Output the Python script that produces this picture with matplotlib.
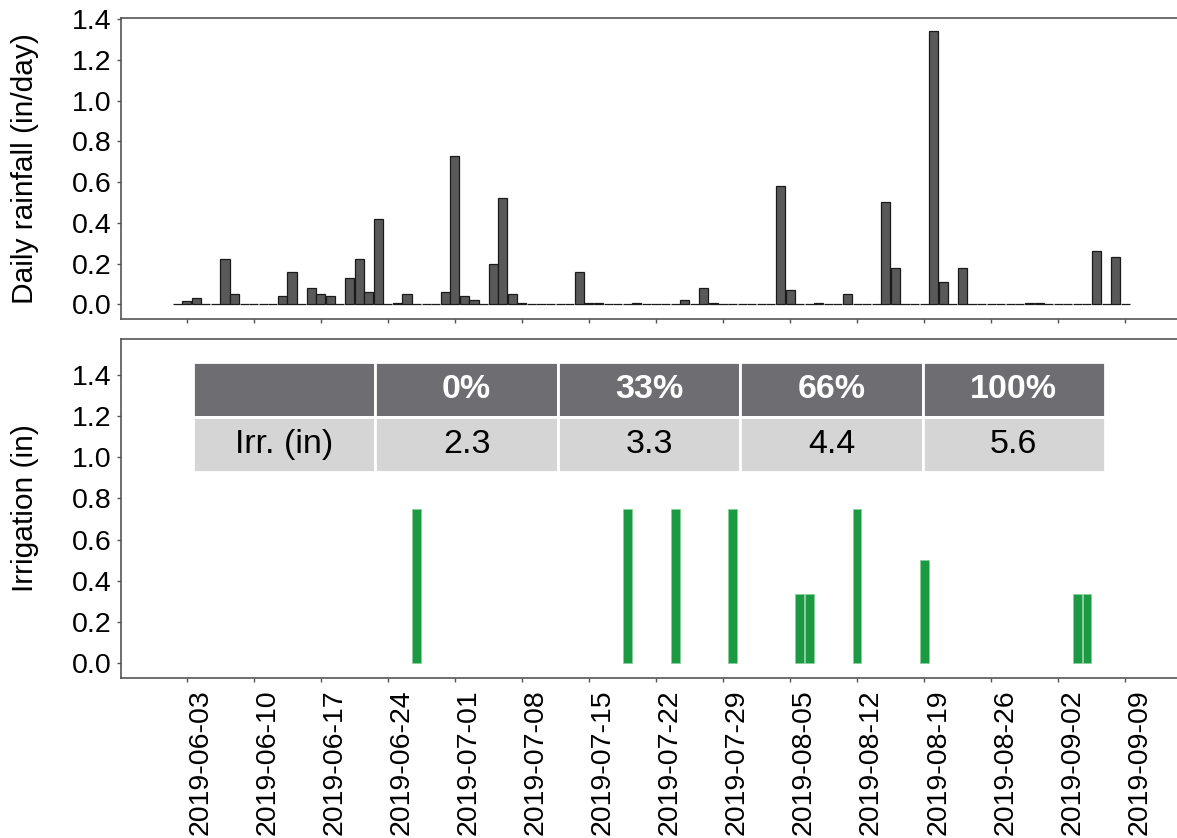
import matplotlib
matplotlib.use('Agg')
import matplotlib.pyplot as plt
import matplotlib.dates as mdates
import numpy as np
import pandas as pd

plt.rcParams['font.family'] = ['Liberation Sans', 'DejaVu Sans']

# ---------------- data ----------------
rain_dates = ['2019-06-03', '2019-06-04', '2019-06-07', '2019-06-08', '2019-06-13',
              '2019-06-14', '2019-06-16', '2019-06-17', '2019-06-18', '2019-06-20',
              '2019-06-21', '2019-06-22', '2019-06-23', '2019-06-25', '2019-06-26',
              '2019-06-30', '2019-07-01', '2019-07-02', '2019-07-03', '2019-07-05',
              '2019-07-06', '2019-07-07', '2019-07-08', '2019-07-14', '2019-07-15',
              '2019-07-16', '2019-07-20', '2019-07-25', '2019-07-27', '2019-07-28',
              '2019-08-04', '2019-08-05', '2019-08-08', '2019-08-11', '2019-08-15',
              '2019-08-16', '2019-08-20', '2019-08-21', '2019-08-23', '2019-08-30',
              '2019-08-31', '2019-09-06', '2019-09-08']
rain_values = [0.015, 0.03, 0.22, 0.05, 0.04,
               0.16, 0.08, 0.05, 0.04, 0.13,
               0.22, 0.06, 0.42, 0.007, 0.05,
               0.06, 0.73, 0.04, 0.02, 0.20,
               0.52, 0.05, 0.006, 0.16, 0.005,
               0.005, 0.005, 0.02, 0.08, 0.005,
               0.58, 0.07, 0.005, 0.05, 0.50,
               0.18, 1.34, 0.11, 0.18, 0.005,
               0.005, 0.26, 0.23]
rain_start = '2019-06-02'
rain_end = '2019-09-09'

irr_dates = ['2019-06-27', '2019-07-19', '2019-07-24', '2019-07-30', '2019-08-06',
             '2019-08-07', '2019-08-12', '2019-08-19', '2019-09-04', '2019-09-05']
irr_values = [0.75, 0.75, 0.75, 0.75, 0.333,
              0.333, 0.75, 0.5, 0.333, 0.333]

tick_labels = ['2019-06-03', '2019-06-10', '2019-06-17', '2019-06-24', '2019-07-01',
               '2019-07-08', '2019-07-15', '2019-07-22', '2019-07-29', '2019-08-05',
               '2019-08-12', '2019-08-19', '2019-08-26', '2019-09-02', '2019-09-09']
y_ticks = [0.0, 0.2, 0.4, 0.6, 0.8, 1.0, 1.2, 1.4]

table_header = ['', '0%', '33%', '66%', '100%']
table_row = ['Irr. (in)', '2.3', '3.3', '4.4', '5.6']

# ---------------- figure ----------------
W, H = 1177, 838
fig = plt.figure(figsize=(W / 100, H / 100), dpi=100)


def rect(l, t, r, b):
    return [l / W, 1 - b / H, (r - l) / W, (b - t) / H]


ax1 = fig.add_axes(rect(121, 18, 1183, 319))
ax2 = fig.add_axes(rect(121, 339, 1183, 678))

days = pd.date_range(rain_start, rain_end, freq='D')
rain = pd.Series(rain_values, index=pd.to_datetime(rain_dates)).reindex(days, fill_value=0.0)

ax1.bar(rain.index, rain.values, width=0.95, color='#595959',
        edgecolor='#1a1a1a', linewidth=0.9, zorder=2)

ax2.bar(pd.to_datetime(irr_dates), irr_values, width=0.92, color='#1c9a43',
        edgecolor='#86cf98', linewidth=0.5, zorder=2)

ticks = pd.to_datetime(tick_labels)
ref = mdates.date2num(ticks[0])
px_per_day = 9.577
xl = (ref + (121 - 186.7) / px_per_day, ref + (1183 - 186.7) / px_per_day)

spine_c = '#555555'
for ax in (ax1, ax2):
    ax.set_xlim(xl)
    ax.set_xticks(ticks)
    ax.set_yticks(y_ticks)
    ax.yaxis.set_major_formatter(matplotlib.ticker.FormatStrFormatter('%.1f'))
    for s in ax.spines.values():
        s.set_color(spine_c)
        s.set_linewidth(1.2)
    ax.tick_params(axis='both', direction='out', length=3, width=1,
                   color=spine_c, labelsize=20.5, pad=4)

ax1.set_ylim(-0.072, 1.405)
ax2.set_ylim(-0.073, 1.575)
ax1.set_xticklabels([])
ax2.set_xticklabels(tick_labels, rotation=90, ha='right', va='center',
                    rotation_mode='anchor')
ax2.tick_params(axis='x', pad=5)
# shift labels so the glyph tops sit at the tick
offset = matplotlib.transforms.ScaledTranslation(14 / 100, 0, fig.dpi_scale_trans)
for lab in ax2.get_xticklabels():
    lab.set_transform(lab.get_transform() + offset)

ax1.set_ylabel('Daily rainfall (in/day)', fontsize=21.5)
ax2.set_ylabel('Irrigation (in)', fontsize=21.5)
ax1.yaxis.set_label_coords((39 - 121) / (1183 - 121), 0.5)
ax2.yaxis.set_label_coords((39 - 121) / (1183 - 121), 0.5)

# ---------------- table ----------------
ax_w, ax_h = 1183 - 121, 678 - 339
bbox = [(193 - 121) / ax_w, (678 - 472) / ax_h, (1105 - 193) / ax_w, (472 - 362) / ax_h]
tbl = ax2.table(cellText=[table_header, table_row], cellLoc='center', bbox=bbox)
tbl.auto_set_font_size(False)
tbl.set_fontsize(24.5)
tbl.set_zorder(5)
for (r, c), cell in tbl.get_celld().items():
    cell.set_edgecolor('white')
    cell.set_linewidth(2.0)
    if r == 0:
        cell.set_facecolor('#6e6d72')
        cell.get_text().set_color('white')
        cell.get_text().set_fontweight('bold')
    else:
        cell.set_facecolor('#d5d5d5')
        cell.get_text().set_color('black')

fig.savefig('out.png', dpi=100)
